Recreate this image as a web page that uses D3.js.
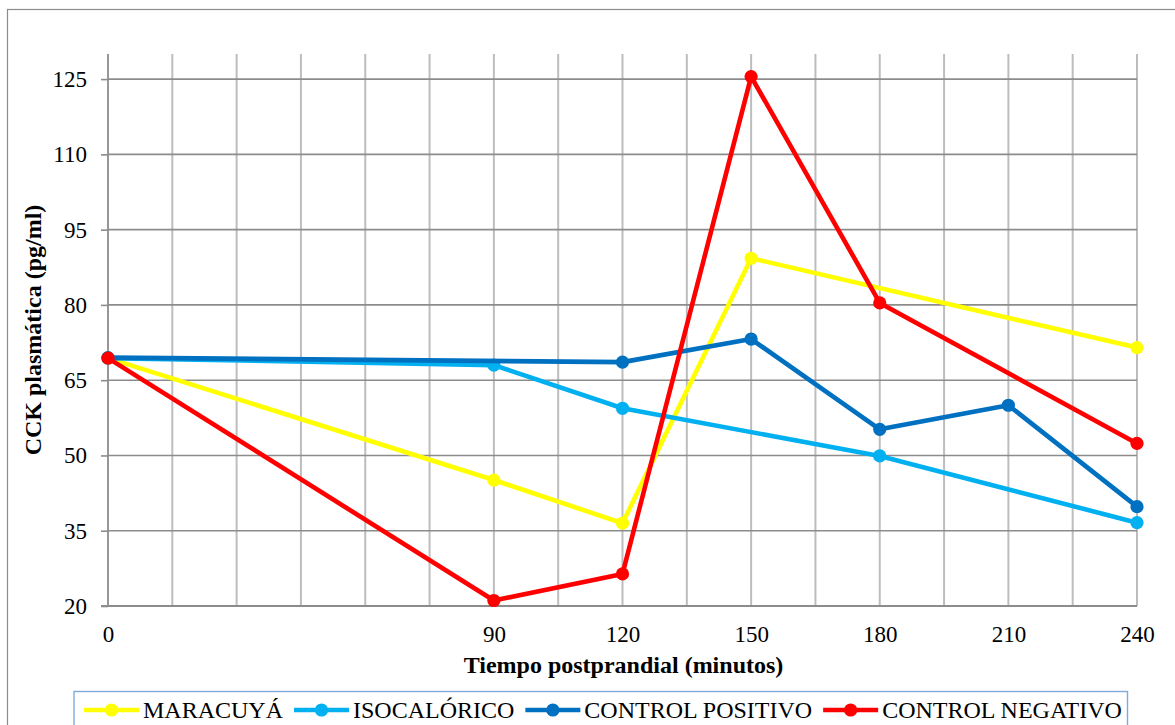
<!DOCTYPE html>
<html>
<head>
<meta charset="utf-8">
<script src="https://cdn.jsdelivr.net/npm/d3@7"></script>
<style>
  html, body { margin: 0; padding: 0; background: #ffffff; }
  svg { display: block; font-family: "Liberation Serif", "Times New Roman", serif; }
</style>
</head>
<body>
<svg id="chart" width="1175" height="725"></svg>
<script>
// Tiempo postprandial (minutos) y CCK plasmática (pg/ml) por grupo
const xTickValues = [0, 90, 120, 150, 180, 210, 240];
const yTickValues = [20, 35, 50, 65, 80, 95, 110, 125];

const seriesNames = ["MARACUYÁ", "ISOCALÓRICO", "CONTROL POSITIVO", "CONTROL NEGATIVO"];
const seriesColors = ["#FFFF00", "#00B0F0", "#0070C0", "#FF0000"];

const maracuyaMinutes = [0, 90, 120, 150, 240];
const maracuyaValues = [69.4, 45.1, 36.5, 89.3, 71.5];

const isocaloricoMinutes = [0, 90, 120, 180, 240];
const isocaloricoValues = [69.4, 68.0, 59.4, 49.9, 36.6];

const positivoMinutes = [0, 120, 150, 180, 210, 240];
const positivoValues = [69.5, 68.6, 73.2, 55.2, 60.0, 39.8];

const negativoMinutes = [0, 90, 120, 150, 180, 240];
const negativoValues = [69.4, 21.1, 26.4, 125.5, 80.4, 52.4];

const seriesData = [
  d3.zip(maracuyaMinutes, maracuyaValues),
  d3.zip(isocaloricoMinutes, isocaloricoValues),
  d3.zip(positivoMinutes, positivoValues),
  d3.zip(negativoMinutes, negativoValues)
];

const svg = d3.select("#chart");
const plot = { left: 108, right: 1137, top: 54, bottom: 606 };

const x = d3.scaleLinear().domain([0, 240]).range([plot.left, plot.right]);
const y = d3.scaleLinear().domain([20, 130]).range([plot.bottom, plot.top]);

// Chart area frame
svg.append("rect")
  .attr("x", 7.5).attr("y", 9.5)
  .attr("width", 1200).attr("height", 800)
  .attr("fill", "none").attr("stroke", "#8c8c8c").attr("stroke-width", 1.2);

// Vertical gridlines every 15 minutes
svg.append("g")
  .selectAll("line")
  .data(d3.range(15, 241, 15))
  .join("line")
  .attr("x1", d => x(d)).attr("x2", d => x(d))
  .attr("y1", plot.top).attr("y2", plot.bottom)
  .attr("stroke", "#bdbdbd").attr("stroke-width", 2);

// Horizontal gridlines on the value ticks
svg.append("g")
  .selectAll("line")
  .data(yTickValues.filter(v => v > 20))
  .join("line")
  .attr("x1", plot.left).attr("x2", plot.right)
  .attr("y1", d => y(d)).attr("y2", d => y(d))
  .attr("stroke", "#8c8c8c").attr("stroke-width", 1.6);

// Y axis
const yAxis = svg.append("g")
  .attr("transform", `translate(${plot.left},0)`)
  .call(d3.axisLeft(y).tickValues(yTickValues).tickSize(7).tickPadding(14).tickSizeOuter(0));
yAxis.select(".domain").attr("stroke", "#8c8c8c").attr("stroke-width", 1.8)
  .attr("d", `M0,${plot.top}V${plot.bottom}`);
yAxis.selectAll(".tick line").attr("stroke", "#8c8c8c").attr("stroke-width", 1.6);
yAxis.selectAll(".tick text")
  .attr("fill", "#000").style("font-size", "23px")
  .style("font-family", "'Liberation Serif', 'Times New Roman', serif");

// X axis
const xAxis = svg.append("g")
  .attr("transform", `translate(0,${plot.bottom})`)
  .call(d3.axisBottom(x).tickValues(xTickValues).tickSize(0).tickPadding(20).tickSizeOuter(0));
xAxis.select(".domain").attr("stroke", "#8c8c8c").attr("stroke-width", 1.8)
  .attr("d", `M${plot.left - 7},0H${plot.right}`);
xAxis.selectAll(".tick text")
  .attr("fill", "#000").style("font-size", "23px")
  .style("font-family", "'Liberation Serif', 'Times New Roman', serif");

// Axis titles
svg.append("text")
  .attr("x", (plot.left + plot.right) / 2 + 1).attr("y", 673)
  .attr("text-anchor", "middle")
  .style("font-size", "24px").style("font-weight", "bold")
  .text("Tiempo postprandial (minutos)");

svg.append("text")
  .attr("transform", "translate(41,330) rotate(-90)")
  .attr("text-anchor", "middle")
  .style("font-size", "24px").style("font-weight", "bold")
  .text("CCK plasmática (pg/ml)");

// Series lines and markers
const line = d3.line().x(d => x(d[0])).y(d => y(d[1]));
const seriesGroups = svg.append("g")
  .selectAll("g")
  .data(seriesData)
  .join("g");

seriesGroups.append("path")
  .attr("d", d => line(d))
  .attr("fill", "none")
  .attr("stroke", (d, i) => seriesColors[i])
  .attr("stroke-width", 4.6)
  .attr("stroke-linejoin", "round");

seriesGroups.selectAll("circle")
  .data((d, i) => d.map(p => ({ p, i })))
  .join("circle")
  .attr("cx", d => x(d.p[0])).attr("cy", d => y(d.p[1]))
  .attr("r", 6.6)
  .attr("fill", d => seriesColors[d.i]);

// Legend
const legendBox = svg.append("rect")
  .attr("x", 74).attr("y", 691.5)
  .attr("width", 1053.5).attr("height", 60)
  .attr("fill", "#ffffff").attr("stroke", "#7eaadc").attr("stroke-width", 1.4);

const legend = svg.append("g");
let cursor = 84;
seriesNames.forEach((name, i) => {
  const item = legend.append("g").attr("transform", `translate(${cursor},0)`);
  item.append("line")
    .attr("x1", 0).attr("x2", 55).attr("y1", 710).attr("y2", 710)
    .attr("stroke", seriesColors[i]).attr("stroke-width", 4.6);
  item.append("circle")
    .attr("cx", 27.5).attr("cy", 710).attr("r", 6.6)
    .attr("fill", seriesColors[i]);
  const t = item.append("text")
    .attr("x", 59).attr("y", 718)
    .style("font-size", "24px")
    .text(name);
  cursor += 59 + t.node().getComputedTextLength() + 11;
});
</script>
</body>
</html>
